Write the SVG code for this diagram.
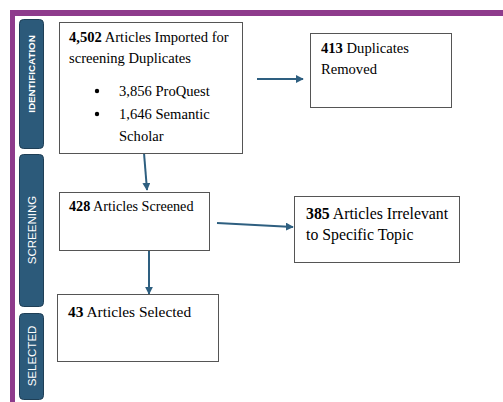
<svg xmlns="http://www.w3.org/2000/svg" width="503" height="402" viewBox="0 0 503 402">
<defs>
<style>
.frame{fill:#8e3b8c}
.side{fill:#2c5a7a;stroke:#1f3f56;stroke-width:1}
.sl{fill:#fff;font-family:"Liberation Sans",Arial,sans-serif;font-size:11.5px}
.box{fill:#fff;stroke:#555;stroke-width:1}
.t{font-family:"Liberation Serif","Times New Roman",serif;font-size:14.6px;fill:#000}
.b{font-weight:bold}
.c{stroke:#2e5f80;stroke-width:2;fill:none}
</style>
<marker id="ah" viewBox="0 0 10 10" refX="9" refY="5" markerWidth="4" markerHeight="4" orient="auto" markerUnits="strokeWidth">
<path d="M0,0 L10,5 L0,10 z" fill="#2e5f80"/>
</marker>
</defs>
<rect width="503" height="402" fill="#fff"/>
<rect class="frame" x="10" y="10" width="493" height="6"/>
<rect class="frame" x="10" y="10" width="5" height="392"/>

<g id="side-identification">
<rect class="side" x="19.5" y="19.5" width="24" height="129" rx="4"/>
<text class="sl" style="font-weight:bold;font-size:9.8px" transform="translate(35,74) rotate(-90)" text-anchor="middle">IDENTIFICATION</text>
</g>
<g id="side-screening">
<rect class="side" x="19.5" y="154.5" width="24" height="152" rx="4"/>
<text class="sl" transform="translate(36,230) rotate(-90)" text-anchor="middle">SCREENING</text>
</g>
<g id="side-selected">
<rect class="side" x="19.5" y="313.5" width="24" height="86" rx="4"/>
<text class="sl" transform="translate(36,356) rotate(-90)" text-anchor="middle">SELECTED</text>
</g>

<g id="connectors">
<line class="c" x1="144" y1="153" x2="147" y2="190" marker-end="url(#ah)"/>
<line class="c" x1="257" y1="79" x2="303" y2="79" marker-end="url(#ah)"/>
<line class="c" x1="217" y1="223" x2="293" y2="227" marker-end="url(#ah)"/>
<line class="c" x1="149" y1="250" x2="149" y2="294" marker-end="url(#ah)"/>
</g>

<g id="box-imported">
<rect class="box" x="59.5" y="22.5" width="183" height="131" stroke="#777"/>
<text class="t" x="69" y="41.5"><tspan class="b">4,502</tspan> Articles Imported for</text>
<text class="t" x="69" y="62.5">screening Duplicates</text>
<circle cx="97" cy="91" r="2.2" fill="#000"/>
<text class="t" x="119" y="96">3,856 ProQuest</text>
<circle cx="97" cy="114" r="2.2" fill="#000"/>
<text class="t" x="119" y="119">1,646 Semantic</text>
<text class="t" x="119" y="141">Scholar</text>
</g>

<g id="box-duplicates">
<rect class="box" x="310.5" y="33.5" width="141" height="74" stroke="#777"/>
<text class="t" x="321" y="53"><tspan class="b">413</tspan> Duplicates</text>
<text class="t" x="321" y="74">Removed</text>
</g>

<g id="box-screened">
<rect class="box" x="59.5" y="192.5" width="150" height="58"/>
<text class="t" x="69" y="210.5" style="font-size:14.2px"><tspan class="b">428</tspan> Articles Screened</text>
</g>

<g id="box-irrelevant">
<rect class="box" x="294.5" y="196.5" width="165" height="66" stroke="#333"/>
<text class="t" x="306" y="219" style="font-size:15.8px"><tspan class="b">385</tspan> Articles Irrelevant</text>
<text class="t" x="306" y="240" style="font-size:15.8px">to Specific Topic</text>
</g>

<g id="box-selected">
<rect class="box" x="57.5" y="294.5" width="161" height="67" stroke="#333"/>
<text class="t" x="68" y="316.5" style="font-size:15.4px"><tspan class="b">43</tspan> Articles Selected</text>
</g>
</svg>
